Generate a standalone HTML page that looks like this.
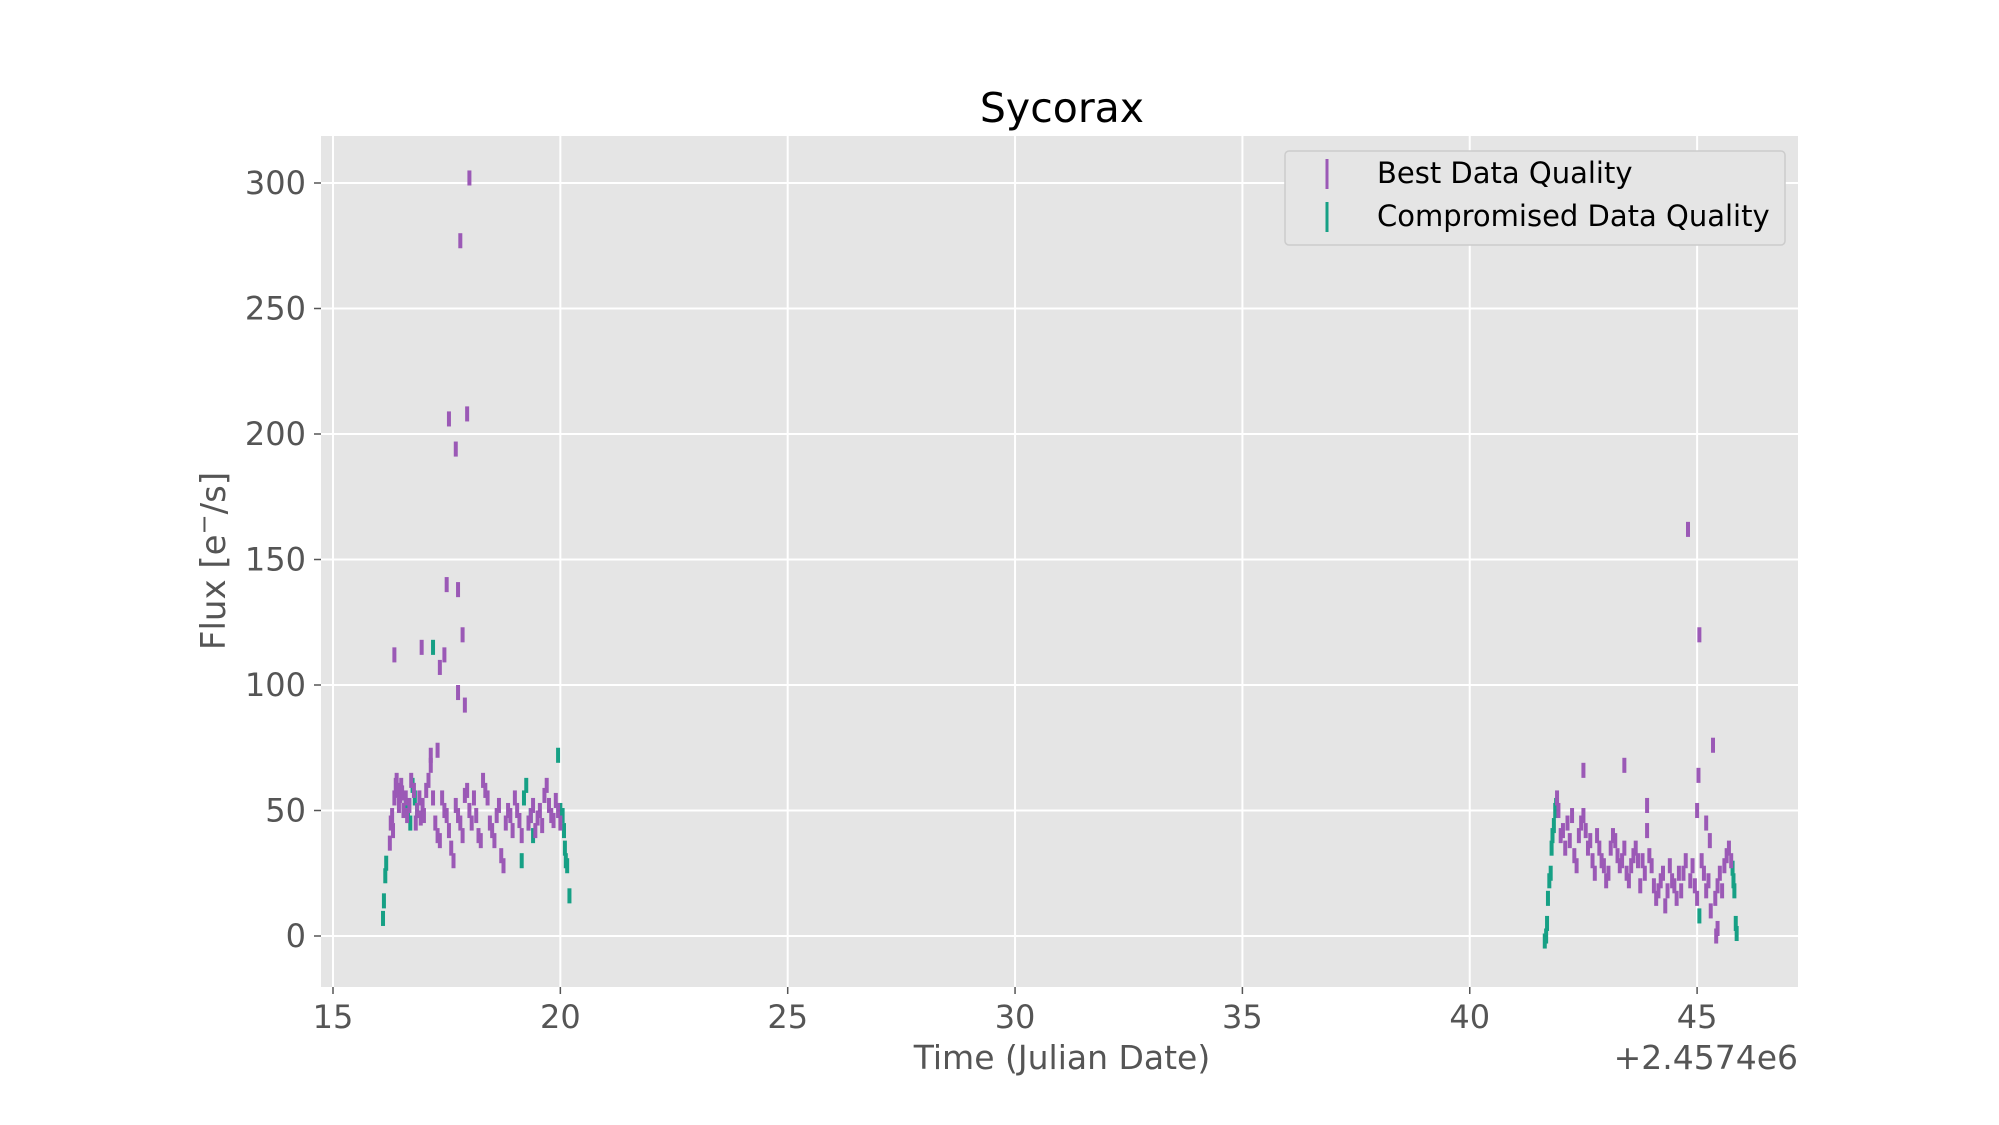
<!DOCTYPE html>
<html><head><meta charset="utf-8"><style>
body{margin:0;background:#fff;}
svg{display:block;font-family:"DejaVu Sans","Liberation Sans",sans-serif;}
</style></head><body>
<svg id="chart" width="1999" height="1125">
<rect x="321" y="136" width="1477" height="851" fill="#e5e5e5"/>
<g id="grid"></g><g id="ticks"></g><g id="marks"></g>
<text x="1062" y="122" font-size="41" text-anchor="middle" fill="#000">Sycorax</text>
<text x="1062" y="1069" font-size="33" text-anchor="middle" fill="#555">Time (Julian Date)</text>
<text x="1798" y="1069" font-size="33" text-anchor="end" fill="#555">+2.4574e6</text>
<text transform="translate(225,561) rotate(-90)" font-size="34" text-anchor="middle" fill="#555">Flux [e<tspan dy="-13" font-size="24">−</tspan><tspan dy="13">/s]</tspan></text>
<g>
<rect x="1285" y="151" width="500" height="94" rx="4" fill="#e5e5e5" stroke="#ccc" stroke-width="1.5"/>
<line x1="1327" y1="159" x2="1327" y2="189" stroke="#9b59b6" stroke-width="3"/>
<text x="1377" y="183" font-size="29" fill="#000">Best Data Quality</text>
<line x1="1327" y1="202" x2="1327" y2="232" stroke="#16a085" stroke-width="3"/>
<text x="1377" y="226" font-size="29" fill="#000">Compromised Data Quality</text>
</g>
</svg>
<script>
const xTicks=[15,20,25,30,35,40,45];
const yTicks=[0,50,100,150,200,250,300];
const bestX=[16.25,16.27,16.3,16.32,16.35,16.38,16.4,16.42,16.45,16.48,16.5,16.52,16.55,16.6,16.63,16.68,16.72,16.78,16.82,16.85,16.9,16.93,16.97,17.0,17.05,17.1,17.15,17.2,17.25,17.3,17.35,17.4,17.45,17.5,17.55,17.6,17.65,17.7,17.75,17.8,17.85,17.9,17.95,18.0,18.05,18.1,18.15,18.2,18.25,18.3,18.35,18.4,18.45,18.5,18.55,18.6,18.65,18.7,18.75,18.8,18.85,18.9,18.95,19.0,19.05,19.1,19.15,19.3,19.35,19.4,19.45,19.5,19.55,19.6,19.65,19.7,19.75,19.8,19.85,19.9,19.95,20.0,
16.35,16.95,17.35,17.45,17.5,17.55,17.7,17.75,17.8,17.85,17.75,17.9,17.95,18.0,17.15,17.3,
41.92,41.95,42.0,42.05,42.1,42.15,42.2,42.25,42.3,42.35,42.4,42.45,42.5,42.55,42.6,42.65,42.7,42.75,42.8,42.85,42.9,42.95,43.0,43.05,43.1,43.15,43.2,43.25,43.3,43.35,43.4,43.45,43.5,43.55,43.6,43.65,43.7,43.75,43.8,43.85,43.9,43.95,44.0,44.05,44.1,44.15,44.2,44.25,44.3,44.35,44.4,44.45,44.5,44.55,44.6,44.65,44.7,44.75,44.85,44.9,44.95,45.0,45.1,45.15,45.2,45.25,45.3,45.4,45.45,45.5,45.55,45.6,45.65,45.7,45.75,
42.5,43.4,43.9,44.8,45.05,45.03,45.0,45.35,45.2,45.42,45.45,45.28];
const bestY=[37,45,48,42,55,60,62,58,52,56,60,57,50,55,48,52,62,58,45,50,55,47,52,48,58,62,68,55,45,40,38,55,50,48,42,35,30,52,48,45,40,56,58,50,45,55,48,40,38,62,58,55,45,42,38,48,52,32,28,45,50,48,42,55,50,46,40,45,48,52,42,47,50,44,56,60,52,48,46,54,50,45,
112,115,107,112,140,206,194,138,277,120,97,92,208,302,72,74,
55,50,40,42,35,45,38,48,32,28,40,45,48,42,35,38,30,25,40,35,30,28,22,25,35,40,38,32,28,30,35,25,22,28,32,35,30,20,30,25,42,32,28,20,15,18,22,25,12,18,28,22,20,15,25,18,25,30,22,28,20,15,30,25,18,22,10,15,20,25,18,28,32,35,30,
66,68,52,162,120,64,50,76,45,0,3,38];
const compX=[16.1,16.12,16.15,16.17,16.6,16.65,16.7,16.75,16.8,16.85,17.2,19.15,19.2,19.25,19.3,19.35,19.4,19.95,20.0,20.05,20.08,20.1,20.12,20.15,20.2,
41.65,41.68,41.7,41.72,41.75,41.78,41.8,41.82,41.85,41.88,41.9,45.05,45.78,45.8,45.82,45.85,45.87];
const compY=[7,14,24,29,52,48,45,60,55,50,115,30,55,60,45,48,40,72,50,48,42,35,30,28,16,
-2,0,5,15,22,25,35,40,44,50,52,8,27,22,18,5,1];
const X=v=>333+(v-15)*45.47, Y=v=>936-v*2.51;
const NS='http://www.w3.org/2000/svg';
const grid=document.getElementById('grid'),ticks=document.getElementById('ticks'),marks=document.getElementById('marks');
function mk(tag,attrs,parent){const e=document.createElementNS(NS,tag);for(const k in attrs)e.setAttribute(k,attrs[k]);parent.appendChild(e);return e;}
xTicks.forEach(t=>{
 const g=mk('line',{x1:X(t),x2:X(t),y1:136,y2:987,stroke:'#fff','stroke-width':2},grid);
 
 
 mk('line',{x1:X(t),x2:X(t),y1:987,y2:994,stroke:'#555','stroke-width':1.5},ticks);
 const tx=mk('text',{x:X(t),y:1028,'font-size':32,'text-anchor':'middle',fill:'#555'},ticks);
 tx.textContent=t;
 
 
});
yTicks.forEach(t=>{
 const g=mk('line',{x1:321,x2:1798,y1:Y(t),y2:Y(t),stroke:'#fff','stroke-width':2},grid);
 
 
 mk('line',{x1:314,x2:321,y1:Y(t),y2:Y(t),stroke:'#555','stroke-width':1.5},ticks);
 const tx=mk('text',{x:306,y:Y(t)+11,'font-size':32,'text-anchor':'end',fill:'#555'},ticks);
 tx.textContent=t;
 
 
});
function series(xs,ys,color,name){
 xs.forEach((x,i)=>{
  const l=mk('line',{x1:X(x),x2:X(x),y1:Y(ys[i]+3),y2:Y(ys[i]-3),stroke:color,'stroke-width':4},marks);
  
  
 });
}
series(compX,compY,'#16a085','compromised-point');
series(bestX,bestY,'#9b59b6','best-point');
</script>
</body></html>
